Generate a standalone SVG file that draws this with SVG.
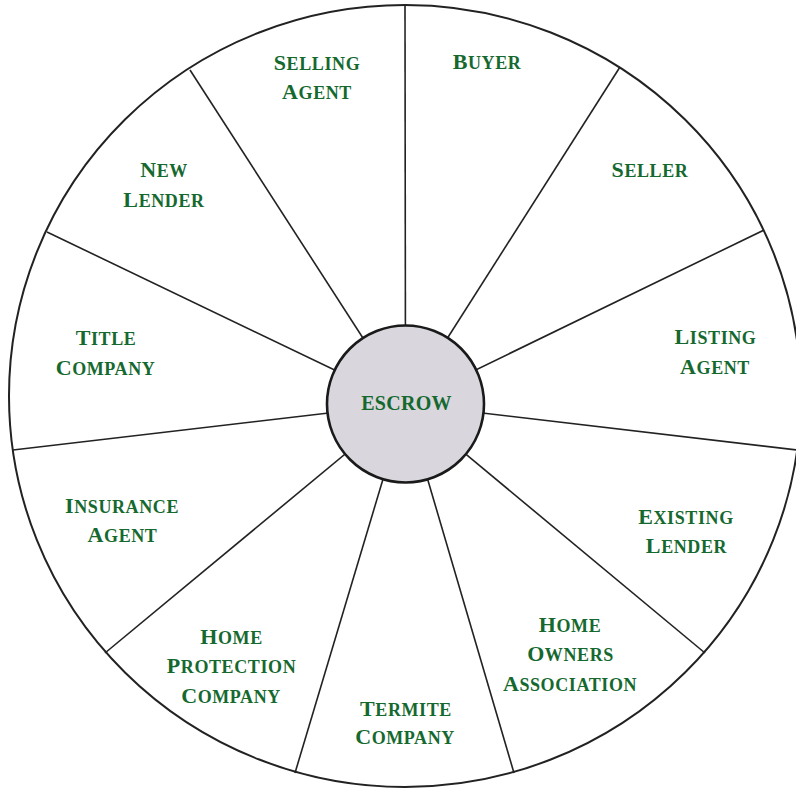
<svg xmlns="http://www.w3.org/2000/svg" width="796" height="789" viewBox="0 0 796 789">
<style>
.rim{fill:none;stroke:#222;stroke-width:2}
.sp{stroke:#222;stroke-width:1.6}
.lbl{font-family:"Liberation Serif","Times New Roman",serif;font-weight:bold;font-size:18px;fill:#15692f;text-anchor:middle;letter-spacing:0.6px}
.b{font-size:22px}
.hub{fill:#d9d7dd;stroke:#1a1a1a;stroke-width:2.6}
.hubt{font-family:"Liberation Serif","Times New Roman",serif;font-weight:bold;font-size:20px;fill:#15692f;text-anchor:middle;letter-spacing:0.3px}
</style>
<rect width="796" height="789" fill="#fff"/>
<ellipse class="rim" cx="405" cy="396" rx="396" ry="391"/>
<g id="connectors">
<line class="sp" x1="405.5" y1="404" x2="405" y2="5"/>
<line class="sp" x1="405.5" y1="404" x2="620" y2="67"/>
<line class="sp" x1="405.5" y1="404" x2="764" y2="230"/>
<line class="sp" x1="405.5" y1="404" x2="797" y2="450"/>
<line class="sp" x1="405.5" y1="404" x2="705" y2="653"/>
<line class="sp" x1="405.5" y1="404" x2="514" y2="773"/>
<line class="sp" x1="405.5" y1="404" x2="295" y2="773"/>
<line class="sp" x1="405.5" y1="404" x2="105" y2="653"/>
<line class="sp" x1="405.5" y1="404" x2="13" y2="450"/>
<line class="sp" x1="405.5" y1="404" x2="47" y2="232"/>
<line class="sp" x1="405.5" y1="404" x2="190" y2="70"/>
</g>
<g id="escrow">
<circle class="hub" cx="405.5" cy="404" r="78.5"/>
<text class="hubt" x="406.5" y="410">ESCROW</text>
</g>
<g id="selling-agent">
<text class="lbl" x="317" y="70"><tspan class="b">S</tspan>ELLING</text>
<text class="lbl" x="317" y="99"><tspan class="b">A</tspan>GENT</text>
</g>
<g id="buyer">
<text class="lbl" x="487" y="69"><tspan class="b">B</tspan>UYER</text>
</g>
<g id="seller">
<text class="lbl" x="650" y="177"><tspan class="b">S</tspan>ELLER</text>
</g>
<g id="listing-agent">
<text class="lbl" x="715.5" y="344"><tspan class="b">L</tspan>ISTING</text>
<text class="lbl" x="715" y="374"><tspan class="b">A</tspan>GENT</text>
</g>
<g id="existing-lender">
<text class="lbl" x="686" y="524"><tspan class="b">E</tspan>XISTING</text>
<text class="lbl" x="686.5" y="553"><tspan class="b">L</tspan>ENDER</text>
</g>
<g id="home-owners-association">
<text class="lbl" x="570" y="632"><tspan class="b">H</tspan>OME</text>
<text class="lbl" x="570.5" y="661"><tspan class="b">O</tspan>WNERS</text>
<text class="lbl" x="570" y="691"><tspan class="b">A</tspan>SSOCIATION</text>
</g>
<g id="termite-company">
<text class="lbl" x="406" y="716"><tspan class="b">T</tspan>ERMITE</text>
<text class="lbl" x="405" y="744"><tspan class="b">C</tspan>OMPANY</text>
</g>
<g id="home-protection-company">
<text class="lbl" x="231.5" y="644"><tspan class="b">H</tspan>OME</text>
<text class="lbl" x="231.5" y="673"><tspan class="b">P</tspan>ROTECTION</text>
<text class="lbl" x="231" y="702.5"><tspan class="b">C</tspan>OMPANY</text>
</g>
<g id="insurance-agent">
<text class="lbl" x="122" y="513"><tspan class="b">I</tspan>NSURANCE</text>
<text class="lbl" x="122.5" y="542"><tspan class="b">A</tspan>GENT</text>
</g>
<g id="title-company">
<text class="lbl" x="106" y="345"><tspan class="b">T</tspan>ITLE</text>
<text class="lbl" x="105.5" y="375"><tspan class="b">C</tspan>OMPANY</text>
</g>
<g id="new-lender">
<text class="lbl" x="164" y="177"><tspan class="b">N</tspan>EW</text>
<text class="lbl" x="164" y="206.5"><tspan class="b">L</tspan>ENDER</text>
</g>
</svg>
